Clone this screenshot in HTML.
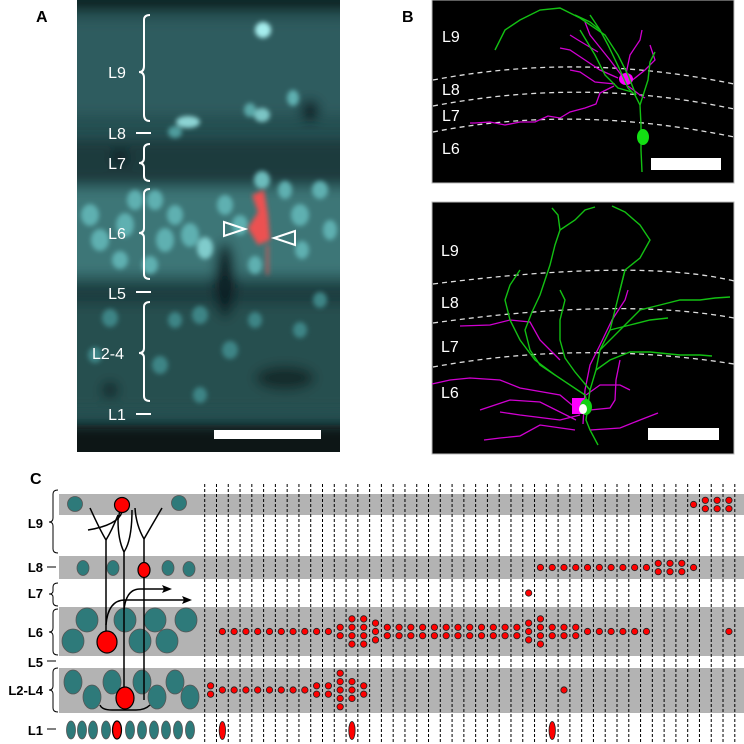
<!DOCTYPE html>
<html><head><meta charset="utf-8"><style>
html,body{margin:0;padding:0;background:#fff}
svg{display:block;font-family:"Liberation Sans",sans-serif}
</style></head><body>
<svg width="744" height="744" viewBox="0 0 744 744">
<defs>
<filter id="bl" x="-50%" y="-50%" width="200%" height="200%"><feGaussianBlur stdDeviation="2.5"/></filter>
<filter id="bl2" x="-50%" y="-50%" width="200%" height="200%"><feGaussianBlur stdDeviation="6"/></filter>
<clipPath id="clipA"><rect x="77" y="0" width="263" height="452"/></clipPath>
</defs>
<!-- Panel A -->
<g>
<text x="36" y="22" font-size="16" font-weight="bold">A</text>
<g clip-path="url(#clipA)">
<rect x="77" y="0" width="263" height="452" fill="#254f51"/>
<g filter="url(#bl2)">
<rect x="40" y="-20" width="340" height="30" fill="#0f2627"/>
<rect x="40" y="20" width="340" height="95" fill="#2d5c5e"/>
<rect x="40" y="140" width="340" height="42" fill="#1c3b3d"/>
<rect x="40" y="188" width="340" height="88" fill="#3e7677"/>
<rect x="40" y="285" width="340" height="20" fill="#1e3e40"/>
<rect x="40" y="305" width="340" height="105" fill="#27504f"/>
<rect x="40" y="425" width="340" height="40" fill="#0a1818"/>
<ellipse cx="225" cy="280" rx="10" ry="38" fill="#0d1f20"/>
<ellipse cx="285" cy="378" rx="30" ry="12" fill="#132a2c"/>
<ellipse cx="310" cy="110" rx="9" ry="10" fill="#0d1f20"/>
<ellipse cx="120" cy="158" rx="8" ry="8" fill="#0d1f20"/>
<ellipse cx="110" cy="390" rx="8" ry="8" fill="#0d1f20"/>
</g>
<g filter="url(#bl)" fill="#5fb0b1">
<ellipse cx="263" cy="30" rx="8" ry="8" fill="#a6eeee"/>
<ellipse cx="188" cy="122" rx="12" ry="6" fill="#8dd4d4"/>
<ellipse cx="175" cy="132" rx="7" ry="6" fill="#4f9c9d"/>
<ellipse cx="262" cy="115" rx="8" ry="7" fill="#7cc5c5"/>
<ellipse cx="250" cy="110" rx="6" ry="7" fill="#5aa8a8"/>
<ellipse cx="293" cy="98" rx="6" ry="8"/>
<ellipse cx="90" cy="215" rx="9" ry="11"/><ellipse cx="100" cy="240" rx="9" ry="11"/>
<ellipse cx="125" cy="225" rx="9" ry="12"/><ellipse cx="135" cy="200" rx="8" ry="10"/>
<ellipse cx="165" cy="240" rx="9" ry="12"/><ellipse cx="175" cy="215" rx="8" ry="10"/>
<ellipse cx="190" cy="235" rx="9" ry="12"/><ellipse cx="205" cy="248" rx="8" ry="11" fill="#80cccc"/>
<ellipse cx="225" cy="205" rx="8" ry="10"/><ellipse cx="240" cy="225" rx="8" ry="10"/>
<ellipse cx="262" cy="180" rx="8" ry="9" fill="#6cbcbc"/><ellipse cx="300" cy="215" rx="9" ry="11"/>
<ellipse cx="320" cy="190" rx="8" ry="9"/><ellipse cx="302" cy="250" rx="7" ry="9"/>
<ellipse cx="155" cy="200" rx="8" ry="10"/><ellipse cx="120" cy="260" rx="8" ry="9"/>
<ellipse cx="285" cy="190" rx="7" ry="9"/><ellipse cx="330" cy="230" rx="7" ry="10"/>
<ellipse cx="150" cy="265" rx="8" ry="9"/><ellipse cx="255" cy="265" rx="7" ry="9"/>
<g fill="#3d8586">
<ellipse cx="200" cy="315" rx="8" ry="9"/><ellipse cx="230" cy="350" rx="8" ry="9"/>
<ellipse cx="160" cy="365" rx="8" ry="9"/><ellipse cx="110" cy="318" rx="8" ry="9"/>
<ellipse cx="175" cy="320" rx="7" ry="8"/><ellipse cx="255" cy="320" rx="7" ry="8"/>
<ellipse cx="300" cy="330" rx="7" ry="8"/><ellipse cx="95" cy="355" rx="7" ry="8"/>
<ellipse cx="200" cy="395" rx="7" ry="8"/><ellipse cx="320" cy="300" rx="7" ry="8"/>
</g>
</g>
<g filter="url(#bl)" fill="#ff4d4d">
<polygon points="252,195 264,190 268,215 270,240 258,245 248,228 258,212" opacity="0.9"/>
<rect x="266" y="245" width="3" height="30" opacity="0.6"/>
</g>
</g>
<g fill="#fff" font-size="16" text-anchor="middle">
<text x="117" y="78">L9</text>
<text x="117" y="139">L8</text>
<text x="117" y="169">L7</text>
<text x="117" y="239">L6</text>
<text x="117" y="299">L5</text>
<text x="108" y="359">L2-4</text>
<text x="117" y="420">L1</text>
</g>
<g stroke="#fff" stroke-width="2" fill="none">
<path d="M150,15 Q144,15 144,20 L144,66 Q144,72 139,72 Q144,72 144,78 L144,115 Q144,121 150,121"/>
<path d="M150,144 Q144,144 144,149 L144,158 Q144,163 139,163 Q144,163 144,168 L144,176 Q144,181 150,181"/>
<path d="M150,189 Q144,189 144,194 L144,228 Q144,233 139,233 Q144,233 144,238 L144,274 Q144,279 150,279"/>
<path d="M150,302 Q144,302 144,307 L144,348 Q144,353 139,353 Q144,353 144,358 L144,396 Q144,401 150,401"/>
<line x1="136" y1="133" x2="151" y2="133"/><line x1="136" y1="292" x2="151" y2="292"/><line x1="136" y1="414" x2="151" y2="414"/>
<polygon points="224,222 245,229 224,236"/>
<polygon points="295,231 274,238 295,245"/>
</g>
<rect x="214" y="430" width="107" height="9" fill="#fff"/>
</g>
<!-- Panel B -->
<g>
<text x="402" y="22" font-size="16" font-weight="bold">B</text>
<rect x="432" y="0" width="302" height="183" fill="#000" stroke="#bbb" stroke-width="1"/>
<rect x="432" y="202" width="302" height="252" fill="#000" stroke="#bbb" stroke-width="1"/>
<g stroke="#ddd" stroke-width="1.3" stroke-dasharray="5,4" fill="none">
<path d="M433,80 Q580,52 734,84"/><path d="M433,106 Q585,77 734,109"/><path d="M433,132 Q575,104 734,137"/>
<path d="M433,284 Q640,258 734,281"/><path d="M433,323 Q620,297 734,318"/><path d="M433,367 Q580,340 734,364"/>
</g>
<g fill="#fff" font-size="16">
<text x="442" y="42">L9</text><text x="442" y="95">L8</text><text x="442" y="121">L7</text><text x="442" y="154">L6</text>
<text x="441" y="256">L9</text><text x="441" y="308">L8</text><text x="441" y="352">L7</text><text x="441" y="398">L6</text>
</g>
<g stroke="#d100d1" stroke-width="1.3" fill="none">
<polyline points="614,86 600,93 596,104 585,108 570,112 560,118 548,116 535,122 520,122 505,125 490,122 475,123 470,123"/>
<polyline points="622,76 610,60 598,45 590,35 585,22"/>
<polyline points="626,74 630,55 640,40 642,30"/>
<polyline points="618,78 600,70 585,60 570,50 560,48"/>
<polyline points="615,84 595,82 580,72 570,70"/>
<polyline points="630,82 645,70 655,60 650,45"/>
<polyline points="628,86 640,95 645,98"/>
<polyline points="598,52 578,40 570,35"/>
<polyline points="583,424 585,390 590,365 600,345 612,320 625,300 628,290"/>
<polyline points="578,410 560,395 520,388 500,380 470,378 450,380 432,384"/>
<polyline points="576,420 540,402 510,400 480,410"/>
<polyline points="580,415 560,420 520,415 500,412"/>
<polyline points="575,430 540,425 520,436 500,438 484,440"/>
<polyline points="590,430 620,428 640,420 658,413"/>
<polyline points="590,410 610,408 615,400 616,380 620,360"/>
<polyline points="560,360 540,340 530,322 510,320 490,325 460,326"/>
<polyline points="586,395 600,385 620,385 630,390"/>
</g>
<ellipse cx="626" cy="79" rx="7" ry="6" fill="#ff00ff"/>
<rect x="572" y="398" width="12" height="16" fill="#ff00ff"/>
<g stroke="#13c013" stroke-width="1.4" fill="none">
<polyline points="642,172 641,150 641,125 640,105 635,95 628,88 620,70 608,45 600,30 590,15"/>
<polyline points="636,95 628,75 618,55 605,35 580,18 560,8 540,10 520,20 505,30 495,50"/>
<polyline points="640,105 648,80 650,62 655,52"/>
<polyline points="632,92 618,88 605,75 595,55 580,30"/>
<polyline points="600,30 590,22 575,15"/>
<polyline points="598,445 590,430 586,420 588,405 590,390 596,370 600,350 610,330 615,310 620,290 625,270"/>
<polyline points="588,405 585,395 570,385 555,375 540,365 530,350 525,330 532,312 540,295 545,280 550,265 555,245 560,230 558,215 552,208"/>
<polyline points="590,390 575,372 565,358 560,340 560,320 565,300 560,290"/>
<polyline points="596,370 610,360 630,352 650,352 680,355 700,355 712,356"/>
<polyline points="600,350 620,330 640,310 660,305 680,300 700,300 715,298 730,297"/>
<polyline points="620,290 625,270 640,258 650,240 640,225 625,212 612,206"/>
<polyline points="555,375 535,360 520,340 510,320 505,300 510,285 520,270"/>
<polyline points="610,330 630,325 650,320 668,318"/>
<polyline points="560,230 575,220 585,210 595,207"/>
</g>
<ellipse cx="643" cy="137" rx="6" ry="8" fill="#13e013"/>
<ellipse cx="586" cy="407" rx="6" ry="8" fill="#13d013"/>
<ellipse cx="583" cy="409" rx="4" ry="5" fill="#fff"/>
<rect x="651" y="158" width="70" height="12" fill="#fff"/>
<rect x="648" y="428" width="71" height="12" fill="#fff"/>
</g>
<!-- Panel C -->
<g>
<text x="30" y="484" font-size="16" font-weight="bold">C</text>
<g fill="#b3b3b3">
<rect x="59" y="494" width="685" height="21"/>
<rect x="59" y="556" width="685" height="23"/>
<rect x="59" y="607" width="685" height="49"/>
<rect x="59" y="668" width="685" height="45"/>
</g>
<g font-size="13" font-weight="bold" text-anchor="end">
<text x="43" y="528">L9</text>
<text x="43" y="572">L8</text>
<text x="43" y="598">L7</text>
<text x="43" y="637">L6</text>
<text x="43" y="667">L5</text>
<text x="43" y="695">L2-L4</text>
<text x="43" y="735">L1</text>
</g>
<g stroke="#000" stroke-width="1" fill="none">
<path d="M58,490 Q53,490 53,494 L53,518 Q53,522 49,522 Q53,522 53,526 L53,549 Q53,553 58,553"/>
<path d="M58,583 Q53,583 53,587 L53,591 Q53,594 49,594 Q53,594 53,597 L53,602 Q53,606 58,606"/>
<path d="M58,609 Q53,609 53,613 L53,628 Q53,632 49,632 Q53,632 53,636 L53,651 Q53,655 58,655"/>
<path d="M58,668 Q53,668 53,672 L53,686 Q53,690 49,690 Q53,690 53,694 L53,708 Q53,712 58,712"/>
<line x1="47" y1="567" x2="56" y2="567"/><line x1="47" y1="661" x2="56" y2="661"/><line x1="47" y1="729" x2="56" y2="729"/>
</g>
<g>
<g fill="#2e7a7a" stroke="#555" stroke-width="0.8">
<circle cx="75" cy="504" r="7.5"/><circle cx="179" cy="503" r="7.5"/>
<ellipse cx="83" cy="568" rx="6" ry="7.5"/><ellipse cx="113" cy="568" rx="6" ry="7.5"/><ellipse cx="168" cy="568" rx="6" ry="7.5"/><ellipse cx="189" cy="569" rx="6" ry="7.5"/>
<ellipse cx="87" cy="620" rx="11" ry="12"/><ellipse cx="125" cy="620" rx="11" ry="12"/><ellipse cx="155" cy="620" rx="11" ry="12"/><ellipse cx="186" cy="620" rx="11" ry="12"/>
<ellipse cx="73" cy="641" rx="11" ry="12"/><ellipse cx="140" cy="641" rx="11" ry="12"/><ellipse cx="167" cy="641" rx="11" ry="12"/>
<ellipse cx="73" cy="682" rx="9" ry="12"/><ellipse cx="112" cy="682" rx="9" ry="12"/><ellipse cx="142" cy="682" rx="9" ry="12"/><ellipse cx="175" cy="682" rx="9" ry="12"/>
<ellipse cx="92" cy="697" rx="9" ry="12"/><ellipse cx="157" cy="697" rx="9" ry="12"/><ellipse cx="190" cy="697" rx="9" ry="12"/>
<ellipse cx="71" cy="730" rx="4.5" ry="9"/><ellipse cx="82" cy="730" rx="4.5" ry="9"/><ellipse cx="93" cy="730" rx="4.5" ry="9"/><ellipse cx="106" cy="730" rx="4.5" ry="9"/>
<ellipse cx="130" cy="730" rx="4.5" ry="9"/><ellipse cx="142" cy="730" rx="4.5" ry="9"/><ellipse cx="154" cy="730" rx="4.5" ry="9"/><ellipse cx="166" cy="730" rx="4.5" ry="9"/><ellipse cx="178" cy="730" rx="4.5" ry="9"/><ellipse cx="190" cy="730" rx="4.5" ry="9"/>
</g>
<g stroke="#000" stroke-width="1.5" fill="none">
<path d="M106,640 L106,540 Q100,530 90,508"/><path d="M106,540 Q112,530 118,515"/>
<path d="M124,697 L124,552 Q118,540 118,520 L120,510"/><path d="M124,552 Q132,540 132,510"/>
<path d="M144,700 L144,539 Q136,525 135,508"/><path d="M144,539 Q152,525 162,508"/>
<path d="M122,512 Q118,525 88,530"/>
<path d="M106,625 Q108,600 125,600 L185,600"/><path d="M124,610 Q126,589 140,589 L165,589"/>
<path d="M100,705 Q102,710 112,710 L136,710 Q145,710 150,705"/>
</g>
<g fill="#000"><polygon points="192,600 182,596 184,600 182,604"/><polygon points="172,589 162,585 164,589 162,593"/></g>
<g fill="#ff0000" stroke="#000" stroke-width="1.2">
<circle cx="122" cy="505" r="7.5"/>
<ellipse cx="144" cy="570" rx="6" ry="7.5"/>
<ellipse cx="107" cy="642" rx="10" ry="11"/>
<ellipse cx="125" cy="698" rx="9" ry="11"/>
<ellipse cx="117" cy="730" rx="4.5" ry="9"/>
</g>
</g>
<g id="grid"></g>
<g id="dots"></g>
</g>
</svg>
<script>
var nCells = 45;
var l9Counts  = [0,0,0,0,0,0,0,0,0,0,0,0,0,0,0,0,0,0,0,0,0,0,0,0,0,0,0,0,0,0,0,0,0,0,0,0,0,0,0,0,0,1,2,2,2];
var l8Counts  = [0,0,0,0,0,0,0,0,0,0,0,0,0,0,0,0,0,0,0,0,0,0,0,0,0,0,0,0,1,1,1,1,1,1,1,1,1,1,2,2,2,1,0,0,0];
var l7Counts  = [0,0,0,0,0,0,0,0,0,0,0,0,0,0,0,0,0,0,0,0,0,0,0,0,0,0,0,1,0,0,0,0,0,0,0,0,0,0,0,0,0,0,0,0,0];
var l6Counts  = [0,1,1,1,1,1,1,1,1,1,1,2,4,4,3,2,2,2,2,2,2,2,2,2,2,2,2,3,4,2,2,2,1,1,1,1,1,1,0,0,0,0,0,0,1];
var l24Counts = [2,1,1,1,1,1,1,1,1,2,2,5,3,2,0,0,0,0,0,0,0,0,0,0,0,0,0,0,0,0,1,0,0,0,0,0,0,0,0,0,0,0,0,0,0];
var l1Counts  = [0,1,0,0,0,0,0,0,0,0,0,0,1,0,0,0,0,0,0,0,0,0,0,0,0,0,0,0,0,1,0,0,0,0,0,0,0,0,0,0,0,0,0,0,0];
var layerNames = ["L9","L8","L7","L6","L2-L4","L1"];
var NS = "http://www.w3.org/2000/svg";
var x0 = 204.7, cw = 11.78;
function lineX(i){ return x0 + cw*i; }
function cellX(i){ return x0 + cw*(i+0.5); }
var rowY = {"L9":504.5,"L8":567.5,"L7":593,"L6":631.5,"L2-L4":690,"L1":730.5};
var grid = document.getElementById('grid');
for (var i=0;i<=nCells;i++){
  var ln = document.createElementNS(NS,'line');
  ln.setAttribute('x1',lineX(i));ln.setAttribute('x2',lineX(i));
  ln.setAttribute('y1',484);ln.setAttribute('y2',744);
  ln.setAttribute('stroke','#000');ln.setAttribute('stroke-width','1');
  ln.setAttribute('stroke-dasharray','3,2');
  
  
  grid.appendChild(ln);
}
var dots = document.getElementById('dots');
var series = [l9Counts,l8Counts,l7Counts,l6Counts,l24Counts];
var dy = 8.4;
for (var s=0;s<series.length;s++){
  var arr = series[s], cy = rowY[layerNames[s]];
  for (var c=0;c<nCells;c++){
    var n = arr[c];
    for (var k=0;k<n;k++){
      var y = cy + (k-(n-1)/2)*dy;
      var d = document.createElementNS(NS,'circle');
      d.setAttribute('cx',cellX(c));d.setAttribute('cy',y);d.setAttribute('r',3.2);
      d.setAttribute('fill','#f00');d.setAttribute('stroke','#222');d.setAttribute('stroke-width','0.8');
      
      
      dots.appendChild(d);
    }
  }
}
for (var c=0;c<nCells;c++){
  if (!l1Counts[c]) continue;
  var e = document.createElementNS(NS,'ellipse');
  e.setAttribute('cx',cellX(c));e.setAttribute('cy',rowY["L1"]);e.setAttribute('rx',3.2);e.setAttribute('ry',9);
  e.setAttribute('fill','#f00');e.setAttribute('stroke','#222');e.setAttribute('stroke-width','0.8');
  
  
  dots.appendChild(e);
}
</script>
</body></html>
